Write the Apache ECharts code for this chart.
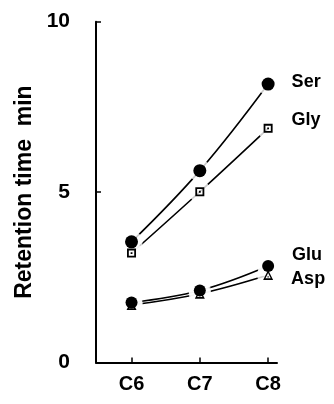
<!DOCTYPE html>
<html>
<head>
<meta charset="utf-8">
<script src="https://cdn.jsdelivr.net/npm/echarts@6/dist/echarts.min.js"></script>
<style>html,body{margin:0;padding:0;background:#fff}#c{width:334px;height:404px}</style>
</head>
<body>
<div id="c"></div>
<script>
const categories = ['C6', 'C7', 'C8'];
const carbonNumbers = [6, 7, 8];
const ser = [3.54, 5.63, 8.17];
const gly = [3.21, 5.01, 6.87];
const glu = [1.76, 2.11, 2.83];
const asp = [1.69, 2.02, 2.57];
const yTickValues = [0, 5, 10];
const seriesNames = ['Ser', 'Gly', 'Glu', 'Asp'];

const FONT = "'Liberation Sans', Arial, Helvetica, sans-serif";
const pts = arr => carbonNumbers.map((c, i) => [c, arr[i]]);

const squareDot = 'path://M0 0H10V10H0Z M2 2V8H8V2Z M4 4H6V6H4Z';
const triDot = 'path://M5 0L10 10H0Z M5 3.2L2.4 8.4H7.6Z M4.4 6.4H5.6V7.6H4.4Z';

function lineSeries(name, arr) {
  return {
    name: name, type: 'line', data: pts(arr), smooth: 0.4, symbol: 'none',
    lineStyle: { color: '#000', width: 1.6 }, silent: true, z: 2
  };
}
function markerSeries(name, arr, symbol, size, labelDist, labelDy) {
  return {
    name: name, type: 'scatter', symbol: symbol, symbolSize: size,
    itemStyle: { color: '#000', opacity: 1 }, z: 4,
    data: pts(arr).map((p, i) => ({
      value: p,
      label: i === arr.length - 1 ? {
        show: true, position: 'right', distance: labelDist, offset: [0, labelDy],
        formatter: name, color: '#000', fontFamily: FONT, fontWeight: 'bold', fontSize: 18
      } : { show: false }
    }))
  };
}

const haloData = [].concat(pts(ser), pts(gly), pts(glu), pts(asp));

const option = {
  animation: false,
  backgroundColor: '#fff',
  grid: { left: 96, right: 57, top: 21.7, bottom: 41.5 },
  xAxis: {
    type: 'value', min: 5.48, max: 8.13,
    axisLine: { show: true, lineStyle: { color: '#000', width: 2 } },
    axisTick: { show: true, inside: true, length: 5, lineStyle: { color: '#000', width: 1.5 }, customValues: carbonNumbers },
    axisLabel: { customValues: carbonNumbers, formatter: v => categories[carbonNumbers.indexOf(v)] || '', color: '#000', fontFamily: FONT, fontWeight: 'bold', fontSize: 20, margin: 12 },
    splitLine: { show: false }
  },
  yAxis: {
    type: 'value', min: yTickValues[0], max: yTickValues[2], interval: 5,
    name: 'Retention time  min', nameLocation: 'middle', nameGap: 58, nameRotate: 90,
    nameTextStyle: { color: '#000', fontFamily: FONT, fontWeight: 'bold', fontSize: 23 },
    axisLine: { show: true, lineStyle: { color: '#000', width: 2 } },
    axisTick: { show: true, inside: true, length: 5, lineStyle: { color: '#000', width: 1.5 } },
    axisLabel: { color: '#000', fontFamily: FONT, fontWeight: 'bold', fontSize: 21, margin: 26 },
    splitLine: { show: false }
  },
  series: [
    lineSeries('Ser', ser), lineSeries('Gly', gly), lineSeries('Glu', glu), lineSeries('Asp', asp),
    { type: 'scatter', data: haloData, symbol: 'circle', symbolSize: 22, itemStyle: { color: '#fff' }, silent: true, z: 3 },
    markerSeries('Asp', asp, triDot, 10, 18, 4),
    markerSeries('Gly', gly, squareDot, 9, 19, -8),
    markerSeries('Glu', glu, 'circle', 12, 18, -11),
    markerSeries('Ser', ser, 'circle', 13, 17, -2)
  ]
};
echarts.init(document.getElementById('c')).setOption(option);
</script>
</body>
</html>
